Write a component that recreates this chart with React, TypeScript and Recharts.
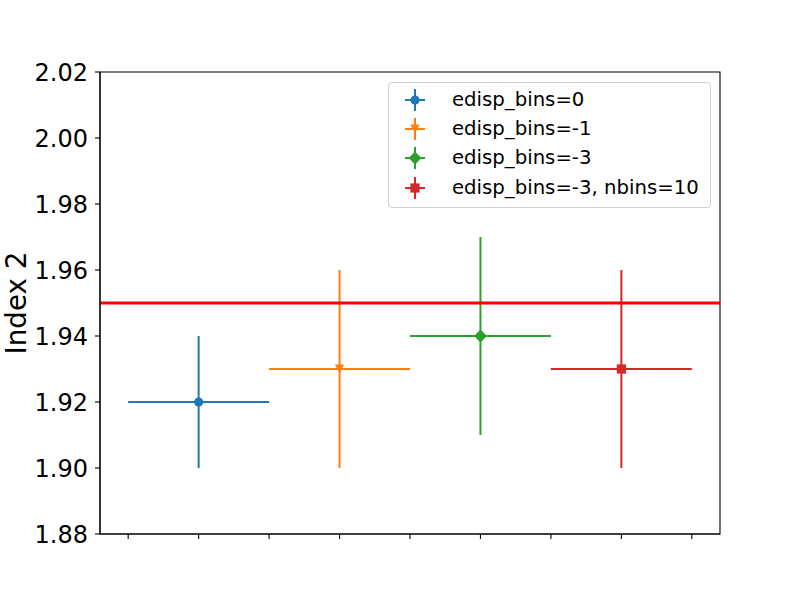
import React from 'react';
import {
  ComposedChart,
  Scatter,
  XAxis,
  YAxis,
  ErrorBar,
  ReferenceLine,
  ReferenceArea,
  Legend,
} from 'recharts';

const seriesNames = ['edisp_bins=0', 'edisp_bins=-1', 'edisp_bins=-3', 'edisp_bins=-3, nbins=10'];
const seriesColors = ['#1f77b4', '#ff7f0e', '#2ca02c', '#d62728'];
const seriesMarkers = ['circle', 'triangleDown', 'diamond', 'square'];
const xPositions = [0, 1, 2, 3];
const yValues = [1.92, 1.93, 1.94, 1.93];
const yErrors = [0.02, 0.03, 0.03, 0.03];
const xErrors = [0.5, 0.5, 0.5, 0.5];
const referenceY = 1.95;
const yTicks = [1.88, 1.9, 1.92, 1.94, 1.96, 1.98, 2.0, 2.02];
const xTicks = [-0.5, 0, 0.5, 1, 1.5, 2, 2.5, 3, 3.5];
const xDomain = [-0.7, 3.7];
const yDomain = [1.88, 2.02];
const yLabel = 'Index 2';

const FONT = '"DejaVu Sans", sans-serif';

function Marker({ kind, cx, cy, color }: { kind: string; cx: number; cy: number; color: string }) {
  const s = 4.6;
  switch (kind) {
    case 'circle':
      return <circle cx={cx} cy={cy} r={s} fill={color} />;
    case 'triangleDown':
      return <polygon points={`${cx - s},${cy - s} ${cx + s},${cy - s} ${cx},${cy + s}`} fill={color} />;
    case 'diamond': {
      const d = 6.4;
      return <polygon points={`${cx},${cy - d} ${cx + d},${cy} ${cx},${cy + d} ${cx - d},${cy}`} fill={color} />;
    }
    case 'square':
    default:
      return <rect x={cx - s} y={cy - s} width={2 * s} height={2 * s} fill={color} />;
  }
}

const seriesData = seriesNames.map((name, i) => ({
  name,
  color: seriesColors[i],
  marker: seriesMarkers[i],
  data: [{ x: xPositions[i], y: yValues[i], ex: xErrors[i], ey: yErrors[i] }],
}));

function LegendContent() {
  return (
    <div
      style={{
        boxSizing: 'border-box',
        width: 323,
        border: '1px solid #d0d0d0',
        borderRadius: 4,
        background: 'rgba(255,255,255,0.8)',
        padding: '2px 0 5px 16px',
        fontFamily: FONT,
        fontSize: 19.7,
        color: '#000',
      }}
    >
      {seriesData.map((s) => (
        <div key={s.name} style={{ display: 'flex', alignItems: 'center', height: 29.3 }}>
          <svg width={20} height={24} style={{ marginRight: 27, overflow: 'visible' }}>
            <line x1={0} y1={12} x2={20} y2={12} stroke={s.color} strokeWidth={2} />
            <line x1={10} y1={1} x2={10} y2={23} stroke={s.color} strokeWidth={2} />
            <Marker kind={s.marker} cx={10} cy={12} color={s.color} />
          </svg>
          <span style={{ whiteSpace: 'nowrap', lineHeight: 1 }}>{s.name}</span>
        </div>
      ))}
    </div>
  );
}

function YLabel(props: any) {
  const vb = props.viewBox || { x: 0, y: 72, width: 100, height: 462 };
  const x = vb.x + 26;
  const y = vb.y + vb.height / 2;
  return (
    <text
      x={x}
      y={y}
      transform={`rotate(-90, ${x}, ${y})`}
      textAnchor="middle"
      fontFamily={FONT}
      fontSize={27.8}
      fill="#000"
    >
      {yLabel}
    </text>
  );
}

export default function App() {
  return (
    <div style={{ position: 'absolute', left: 0, top: 0, width: 800, height: 600, background: '#fff' }}>
      <ComposedChart width={800} height={600} margin={{ top: 72, right: 80, left: 0, bottom: 36 }}>
        <XAxis
          type="number"
          dataKey="x"
          domain={xDomain}
          ticks={xTicks}
          allowDataOverflow
          tickFormatter={() => ''}
          tickSize={5}
          height={30}
          axisLine={{ stroke: '#000', strokeWidth: 1.1 }}
          tickLine={{ stroke: '#000', strokeWidth: 1.1 }}
        />
        <YAxis
          type="number"
          dataKey="y"
          domain={yDomain}
          ticks={yTicks}
          allowDataOverflow
          width={100}
          tickSize={5}
          tickMargin={7}
          tickFormatter={(v: number) => v.toFixed(2)}
          tick={{ fill: '#000', fontSize: 24, fontFamily: FONT }}
          axisLine={{ stroke: '#000', strokeWidth: 1.1 }}
          tickLine={{ stroke: '#000', strokeWidth: 1.1 }}
          label={{ content: YLabel }}
        />
        <ReferenceArea
          x1={xDomain[0]}
          x2={xDomain[1]}
          y1={yDomain[0]}
          y2={yDomain[1]}
          fill="none"
          fillOpacity={0}
          stroke="#000"
          strokeWidth={1.1}
        />
        {seriesData.map((s) => (
          <Scatter
            key={s.name}
            name={s.name}
            data={s.data}
            fill={s.color}
            isAnimationActive={false}
            shape={(p: any) => <Marker kind={s.marker} cx={p.cx} cy={p.cy} color={s.color} />}
          >
            <ErrorBar dataKey="ex" direction="x" width={0} stroke={s.color} strokeWidth={2} isAnimationActive={false} />
            <ErrorBar dataKey="ey" direction="y" width={0} stroke={s.color} strokeWidth={2} isAnimationActive={false} />
          </Scatter>
        ))}
        <ReferenceLine y={referenceY} stroke="#ff0000" strokeWidth={2.8} />
        <Legend
          layout="vertical"
          align="center"
          verticalAlign="middle"
          content={LegendContent}
          wrapperStyle={{ left: 388, top: 82, width: 323, height: 'auto' }}
        />
      </ComposedChart>
    </div>
  );
}
